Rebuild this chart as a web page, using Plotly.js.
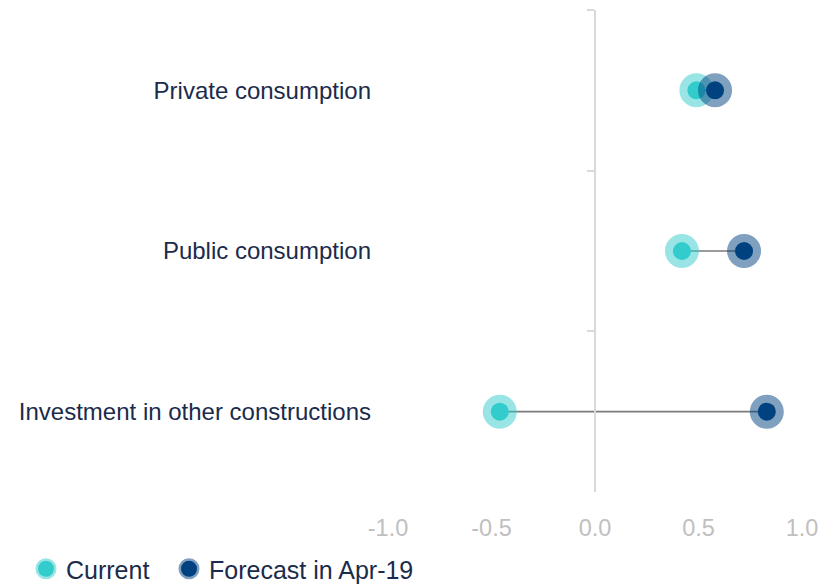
<!DOCTYPE html>
<html>
<head>
<meta charset="utf-8">
<script src="https://cdn.plot.ly/plotly-3.0.1.min.js"></script>
<style>html,body{margin:0;padding:0;background:#fff;}#chart{width:823px;height:587px;}</style>
</head>
<body>
<div id="chart"></div>
<script>
var categories = ['Private consumption', 'Public consumption', 'Investment in other constructions'];
var currentValues = [0.49, 0.42, -0.46];
var forecastValues = [0.58, 0.72, 0.83];
var xTickValues = [-1, -0.5, 0, 0.5, 1];
var xTickLabels = ['-1.0', '-0.5', '0.0', '0.5', '1.0'];
var seriesNames = ['Current', 'Forecast in Apr-19'];

var navy = '#1b2b4b';
var lineX = [], lineY = [];
for (var i = 0; i < categories.length; i++) {
  lineX.push(currentValues[i], forecastValues[i], null);
  lineY.push(categories[i], categories[i], null);
}

var traces = [
  {
    x: lineX, y: lineY, xaxis: 'x', yaxis: 'y',
    mode: 'lines', line: {color: '#7a7a7a', width: 1.6},
    showlegend: false, hoverinfo: 'skip'
  },
  {
    x: currentValues, y: categories, xaxis: 'x', yaxis: 'y2',
    name: seriesNames[0], mode: 'markers', legend: 'legend',
    marker: {size: 18, color: '#33cccc', line: {width: 16, color: 'rgba(51,204,204,0.5)'}}
  },
  {
    x: forecastValues, y: categories, xaxis: 'x', yaxis: 'y2',
    name: seriesNames[1], mode: 'markers', legend: 'legend2',
    marker: {size: 18, color: '#00417f', line: {width: 16, color: 'rgba(0,65,127,0.5)'}}
  }
];

function legendAt(xpx) {
  return {
    orientation: 'h', xref: 'container', yref: 'container',
    x: xpx / 823, xanchor: 'left', y: 18 / 587, yanchor: 'middle',
    font: {size: 25, color: navy}, itemclick: false, itemdoubleclick: false,
    bgcolor: 'rgba(0,0,0,0)'
  };
}

var layout = {
  width: 823, height: 587,
  margin: {l: 388, r: 21, t: 10, b: 95},
  paper_bgcolor: '#ffffff', plot_bgcolor: 'rgba(0,0,0,0)',
  font: {family: 'Liberation Sans, Arial, sans-serif', color: navy},
  hovermode: false,
  xaxis: {
    range: [-1, 1], tickvals: xTickValues, ticktext: xTickLabels,
    showgrid: false, zeroline: false, showline: false, ticks: '',
    tickfont: {size: 23.5, color: '#c0c0c0'}, ticklabelstandoff: 19
  },
  yaxis: {
    type: 'category', categoryorder: 'array', categoryarray: categories,
    range: [2.5, -0.5], showgrid: false, zeroline: false, showline: false,
    ticks: '', tickfont: {size: 24, color: navy}, ticklabelstandoff: 16
  },
  yaxis2: {
    type: 'category', categoryorder: 'array', categoryarray: categories,
    range: [2.5, -0.5], overlaying: 'y', anchor: 'free', position: 0.5, side: 'left',
    showgrid: false, zeroline: false, showline: true, linecolor: '#d9d9d9', linewidth: 2,
    ticks: 'outside', tickson: 'boundaries', ticklen: 7, tickwidth: 2, tickcolor: '#d9d9d9',
    showticklabels: false
  },
  showlegend: true,
  legend: legendAt(26),
  legend2: legendAt(169)
};

Plotly.newPlot('chart', traces, layout, {staticPlot: true, displayModeBar: false});
</script>
</body>
</html>
